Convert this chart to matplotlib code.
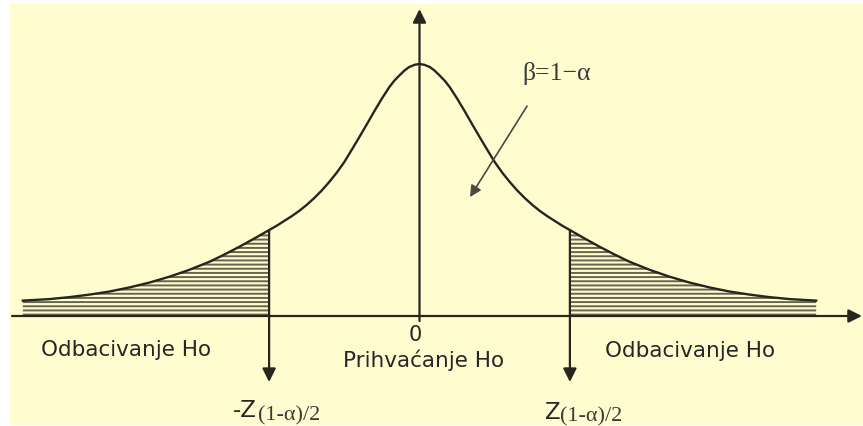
import numpy as np
import matplotlib.pyplot as plt
import matplotlib.patches as patches

# half of the bell curve (z from centre, height with peak = 1)
z_half = [0.0, 0.05, 0.11, 0.16, 0.21, 0.27, 0.32, 0.40, 0.48, 0.56, 0.64, 0.72, 0.80,
          0.88, 0.96, 1.04, 1.12, 1.20, 1.28, 1.36, 1.44, 1.52, 1.60, 1.76, 1.91, 2.07,
          2.23, 2.45, 2.66, 2.87, 3.09, 3.30, 3.51, 3.72, 3.94, 4.22]
h_half = [1.0, 0.997, 0.988, 0.974, 0.956, 0.933, 0.909, 0.863, 0.813, 0.761, 0.710, 0.660,
          0.611, 0.569, 0.532, 0.498, 0.468, 0.441, 0.417, 0.396, 0.377, 0.358, 0.341, 0.307,
          0.276, 0.245, 0.216, 0.183, 0.156, 0.133, 0.113, 0.097, 0.085, 0.075, 0.067, 0.061]
z_crit = 1.6

lbl_reject = "Odbacivanje Ho"
lbl_accept = "Prihvaćanje Ho"
lbl_zero = "0"
lbl_beta = "β=1−α"
lbl_sub = "(1-α)/2"

BG = '#fffdd0'
INK = '#26261e'
TXT = '#262626'
HATCH = '#66664f'

# full curve by mirroring the read half
z = np.array([-v for v in z_half[::-1]] + z_half[1:])
h = np.array(h_half[::-1] + h_half[1:])

plt.rcParams['hatch.linewidth'] = 1.4
plt.rcParams['hatch.color'] = HATCH

fig = plt.figure(figsize=(8.63, 4.27), dpi=100)
ax = fig.add_axes([0, 0, 1, 1])
ax.set_xlim(-419.5 / 94, (863 - 419.5) / 94)
ax.set_ylim((317 - 427) / 252, 317 / 252)
ax.axis('off')
ax.add_patch(patches.Rectangle((10 / 863, 2 / 427), 1, (427 - 7) / 427,
                               transform=fig.transFigure, color=BG, zorder=0, clip_on=False))

# shaded rejection tails
left = z <= -z_crit
right = z >= z_crit
for m in (left, right):
    ax.fill_between(z[m], 0, h[m], facecolor='none', edgecolor=HATCH,
                    hatch='----', linewidth=0, zorder=1)

ax.plot(z, h, color=INK, lw=1.7, zorder=3, solid_joinstyle='round')

arr = dict(arrowstyle='-|>', mutation_scale=20, lw=1.6, color=INK, shrinkA=0, shrinkB=0)
# axes
ax.annotate('', xy=(4.707, 0), xytext=(-4.335, 0), arrowprops=arr, zorder=4)
ax.annotate('', xy=(0, 1.218), xytext=(0, -0.02), arrowprops=arr, zorder=4)
# critical values
hc = np.interp(z_crit, z_half, h_half)
for s in (-1, 1):
    ax.annotate('', xy=(s * z_crit, -0.262), xytext=(s * z_crit, hc), arrowprops=arr, zorder=4)

# beta pointer
ax.annotate('', xy=(0.537, 0.472), xytext=(1.144, 0.833),
            arrowprops=dict(arrowstyle='-|>', mutation_scale=17, lw=1.2, color='#4a4a40',
                            shrinkA=0, shrinkB=0))

sans = dict(family='DejaVu Sans', color=TXT)
serif = dict(family='Liberation Serif', color='#3a3a3a')
ax.text(-3.122, -0.131, lbl_reject, ha='center', va='center', fontsize=15.5, **sans)
ax.text(2.88, -0.135, lbl_reject, ha='center', va='center', fontsize=15.5, **sans)
ax.text(-0.04, -0.071, lbl_zero, ha='center', va='center', fontsize=15, **sans)
ax.text(0.048, -0.171, lbl_accept, ha='center', va='center', fontsize=15.5, **sans)
ax.text(1.09, 0.968, lbl_beta, ha='left', va='center', fontsize=18.5, **serif)

ax.text(-1.984, -0.373, "-Z", ha='left', va='center', fontsize=16.5, **sans)
ax.text(-1.718, -0.392, lbl_sub, ha='left', va='center', fontsize=16, **serif)
ax.text(1.335, -0.378, "Z", ha='left', va='center', fontsize=16.5, **sans)
ax.text(1.495, -0.396, lbl_sub, ha='left', va='center', fontsize=16, **serif)

fig.savefig('out.png', dpi=100, facecolor='white')
